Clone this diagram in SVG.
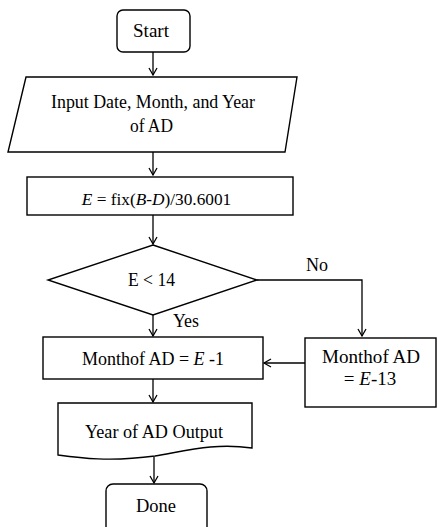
<svg xmlns="http://www.w3.org/2000/svg" width="438" height="527" viewBox="0 0 438 527">
<style>
.s{fill:#fff;stroke:#000;stroke-width:1.4}
.c{fill:none;stroke:#000;stroke-width:1.3}
text{font-family:'Liberation Serif','DejaVu Serif',serif;font-size:19px;fill:#000}
</style>
<defs>
<marker id="a" markerWidth="12" markerHeight="12" refX="9" refY="5" orient="auto" markerUnits="userSpaceOnUse">
<polyline points="2,1 9,5 2,9" fill="none" stroke="#000" stroke-width="1.3"/>
</marker>
</defs>
<rect width="438" height="527" fill="#fff"/>
<g id="connectors">
<line class="c" x1="153" y1="52" x2="153" y2="75" marker-end="url(#a)"/>
<line class="c" x1="153" y1="152" x2="153" y2="175" marker-end="url(#a)"/>
<line class="c" x1="153" y1="215" x2="153" y2="244" marker-end="url(#a)"/>
<line class="c" x1="153" y1="315" x2="153" y2="336" marker-end="url(#a)"/>
<polyline class="c" points="257,280 362,280 362,336" marker-end="url(#a)"/>
<line class="c" x1="305" y1="363" x2="264" y2="363" marker-end="url(#a)"/>
<line class="c" x1="153" y1="379" x2="153" y2="402" marker-end="url(#a)"/>
<line class="c" x1="154" y1="457" x2="154" y2="483" marker-end="url(#a)"/>
<text x="306" y="271" textLength="22" lengthAdjust="spacingAndGlyphs">No</text>
<text x="173" y="327" textLength="26" lengthAdjust="spacingAndGlyphs">Yes</text>
</g>
<g id="start">
<rect class="s" x="117" y="10" width="73" height="42" rx="6"/>
<text x="133" y="37" textLength="36" lengthAdjust="spacingAndGlyphs">Start</text>
</g>
<g id="input">
<polygon class="s" points="26,77 297,77 285,152 8,152"/>
<text x="51" y="108" textLength="204" lengthAdjust="spacingAndGlyphs">Input Date, Month, and Year</text>
<text x="130" y="132" textLength="43" lengthAdjust="spacingAndGlyphs">of AD</text>
</g>
<g id="compute">
<rect class="s" x="27" y="177" width="266" height="38"/>
<text x="156.5" y="205" text-anchor="middle" style="font-size:17.3px"><tspan font-style="italic">E</tspan> = fix(<tspan font-style="italic">B</tspan>-<tspan font-style="italic">D</tspan>)/30.6001</text>
</g>
<g id="decision">
<polygon class="s" points="153,245 257,280 153,315 48,280"/>
<text x="128" y="286" textLength="47" lengthAdjust="spacingAndGlyphs">E &lt; 14</text>
</g>
<g id="month1">
<rect class="s" x="43" y="337" width="220" height="42"/>
<text x="153" y="365" text-anchor="middle" style="font-size:18px">Monthof AD = <tspan font-style="italic">E</tspan> -1</text>
</g>
<g id="month13">
<rect class="s" x="305" y="338" width="131" height="69"/>
<text x="322" y="363" textLength="98" lengthAdjust="spacingAndGlyphs">Monthof AD</text>
<text x="370" y="385" text-anchor="middle"><tspan>= </tspan><tspan font-style="italic">E</tspan><tspan>-13</tspan></text>
</g>
<g id="output">
<path class="s" d="M58,403 L252,403 L252,448 C215,443 190,450 155,456 C110,462 80,458 58,455 Z"/>
<text x="85" y="438" textLength="138" lengthAdjust="spacingAndGlyphs">Year of AD Output</text>
</g>
<g id="done">
<rect class="s" x="106" y="484" width="101" height="52" rx="7"/>
<text x="136" y="512" textLength="40" lengthAdjust="spacingAndGlyphs">Done</text>
</g>
</svg>
